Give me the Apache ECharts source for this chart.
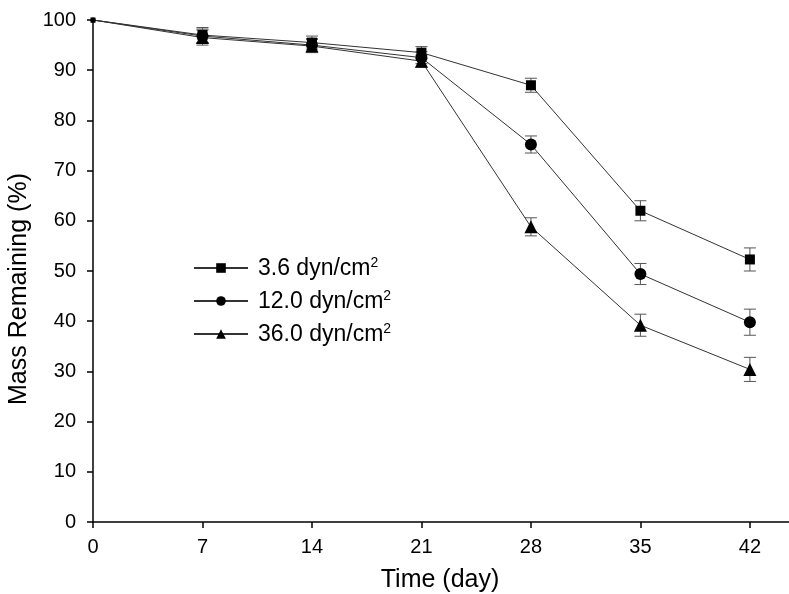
<!DOCTYPE html>
<html>
<head>
<meta charset="utf-8">
<title>Mass Remaining</title>
<script src="https://cdn.jsdelivr.net/npm/echarts@6/dist/echarts.min.js"></script>
<style>
  html, body {margin: 0; padding: 0; background: #fff;}
  #main {width: 789px; height: 594px;}
</style>
</head>
<body>
<div id="main"></div>
<script>
// data
var days = [0, 7, 14, 21, 28, 35, 42];
var names = ['3.6 dyn/cm', '12.0 dyn/cm', '36.0 dyn/cm'];
var low = [100, 97.0, 95.5, 93.5, 87.0, 62.0, 52.3];
var mid = [100, 96.8, 95.0, 92.5, 75.2, 49.4, 39.8];
var high = [100, 96.5, 94.8, 91.8, 58.8, 39.2, 30.4];
var errLow = [0, 1.5, 1.3, 1.2, 1.4, 2.0, 2.3];
var errMid = [0, 1.4, 1.3, 1.2, 1.7, 2.1, 2.6];
var errHigh = [0, 1.5, 1.3, 1.2, 1.8, 2.2, 2.4];
var yTicks = [0, 10, 20, 30, 40, 50, 60, 70, 80, 90, 100];

var chart = echarts.init(document.getElementById('main'));

function pairs(vals) {
  return days.map(function (d, i) {
    // point at day 0 sits under the axis in the original
    return i === 0 ? {value: [d, vals[i]], symbolSize: 5} : [d, vals[i]];
  });
}
function errData(vals, errs) {
  return days.map(function (d, i) { return [d, vals[i] - errs[i], vals[i] + errs[i]]; });
}
// error bar with caps
function renderErr(params, api) {
  if (api.value(2) - api.value(1) <= 0) return;
  var lo = api.coord([api.value(0), api.value(1)]);
  var hi = api.coord([api.value(0), api.value(2)]);
  var w = 6;
  var st = {stroke: '#555', lineWidth: 1};
  return {
    type: 'group',
    children: [
      {type: 'line', shape: {x1: lo[0], y1: lo[1], x2: hi[0], y2: hi[1]}, style: st},
      {type: 'line', shape: {x1: lo[0] - w, y1: lo[1], x2: lo[0] + w, y2: lo[1]}, style: st},
      {type: 'line', shape: {x1: hi[0] - w, y1: hi[1], x2: hi[0] + w, y2: hi[1]}, style: st}
    ]
  };
}

var lineStyle = {color: '#333', width: 1};
var symbols = ['rect', 'circle', 'triangle'];
var sizes = [10, 12, 13];
var vals = [low, mid, high];
var errs = [errLow, errMid, errHigh];
var series = [];
for (var k = 0; k < 3; k++) {
  series.push({
    type: 'custom',
    renderItem: renderErr,
    data: errData(vals[k], errs[k]),
    z: 1,
    silent: true
  });
}
for (var k = 0; k < 3; k++) {
  series.push({
    name: names[k],
    type: 'line',
    data: pairs(vals[k]),
    symbol: symbols[k],
    symbolSize: sizes[k],
    showAllSymbol: true,
    itemStyle: {color: '#000'},
    lineStyle: lineStyle,
    z: 3
  });
}

chart.setOption({
  animation: false,
  backgroundColor: '#fff',
  textStyle: {fontFamily: 'Liberation Sans, Arial, sans-serif'},
  grid: {left: 93, right: 0, top: 20, bottom: 72, outerBoundsMode: 'none', containLabel: false},
  legend: {
    data: names,
    orient: 'vertical',
    left: 188,
    top: 251,
    itemWidth: 54,
    itemHeight: 12,
    itemGap: 9,
    formatter: function (n) { return '{a|' + n + '}{b|2}'; },
    textStyle: {
      color: '#000',
      rich: {
        a: {fontSize: 23, color: '#000', lineHeight: 24, verticalAlign: 'bottom', padding: [0, 0, 0, 5]},
        b: {fontSize: 14, color: '#000', lineHeight: 24, verticalAlign: 'top'}
      }
    }
  },
  xAxis: {
    type: 'value',
    min: 0,
    max: 44.5,
    interval: 7,
    name: 'Time (day)',
    nameLocation: 'middle',
    nameGap: 46,
    nameTextStyle: {fontSize: 25, color: '#000', padding: [0, 2, 0, 0]},
    splitLine: {show: false},
    axisLine: {lineStyle: {color: '#000', width: 1.5}},
    axisTick: {inside: false, length: 6, lineStyle: {color: '#000', width: 1.5}},
    axisLabel: {
      fontSize: 20, color: '#000', margin: 15, showMaxLabel: false,
      formatter: function (v) { return days.indexOf(v) >= 0 ? String(v) : ''; }
    }
  },
  yAxis: {
    type: 'value',
    min: yTicks[0],
    max: yTicks[yTicks.length - 1],
    interval: 10,
    name: 'Mass Remaining (%)',
    nameLocation: 'middle',
    nameGap: 55,
    nameTextStyle: {fontSize: 25, color: '#000', padding: [0, 36, 0, 0]},
    splitLine: {show: false},
    axisLine: {show: true, lineStyle: {color: '#000', width: 1.5}},
    axisTick: {show: true, inside: false, length: 6, lineStyle: {color: '#000', width: 1.5}},
    axisLabel: {fontSize: 20, color: '#000', margin: 17}
  },
  series: series
});
window.onresize = chart.resize;
</script>
</body>
</html>
